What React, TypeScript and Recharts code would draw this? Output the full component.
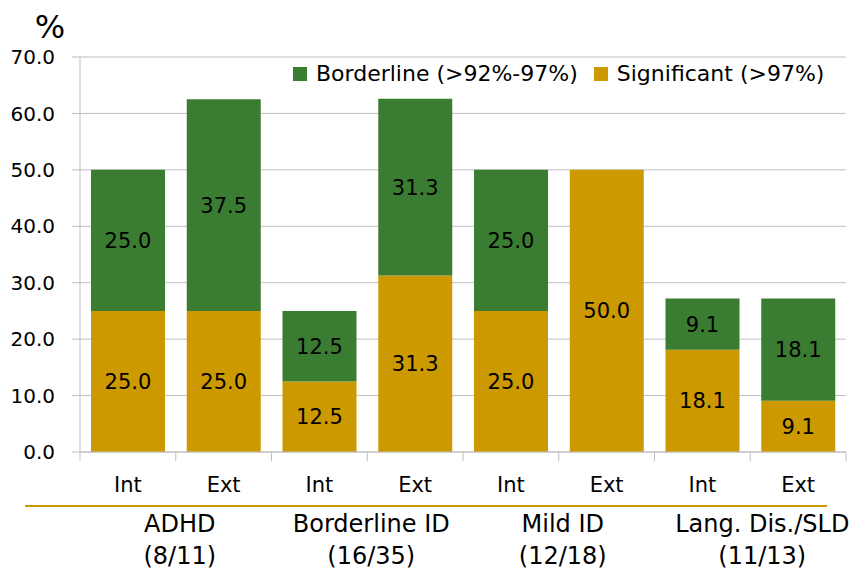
import { BarChart, Bar, XAxis, YAxis, CartesianGrid, Legend, LabelList } from "recharts";

const categories = ["Int", "Ext", "Int", "Ext", "Int", "Ext", "Int", "Ext"];
const groupNames = ["ADHD", "Borderline ID", "Mild ID", "Lang. Dis./SLD"];
const groupCounts = ["(8/11)", "(16/35)", "(12/18)", "(11/13)"];
const significant = [25.0, 25.0, 12.5, 31.3, 25.0, 50.0, 18.1, 9.1];
const borderline = [25.0, 37.5, 12.5, 31.3, 25.0, 0, 9.1, 18.1];
const yTicks = [0, 10, 20, 30, 40, 50, 60, 70];

const GREEN = "#3A7D32";
const GOLD = "#CC9900";
const GRID = "#BFBFBF";
const FONT = "'Comic Sans MS', 'DejaVu Sans', sans-serif";
const NUM_FONT = "'Century Gothic', 'DejaVu Sans', sans-serif";

const PLOT_LEFT = 80;
const PLOT_RIGHT = 846;
const BAND = (PLOT_RIGHT - PLOT_LEFT) / categories.length;

const data = categories.map((c, i) => ({
	name: `${c}-${i}`,
	cat: c,
	significant: significant[i],
	borderline: borderline[i],
}));

const fmt = (v: any) => (v ? Number(v).toFixed(1) : "");

const XTick = (props: any) => {
	const { x, y, payload, index } = props;
	const i = index ?? payload.index;
	const left = x - BAND / 2;
	const right = x + BAND / 2;
	const g = Math.floor(i / 2);
	const shift = g === 3 ? 12 : 4;
	return (
		<g>
			<line x1={left} y1={y} x2={left} y2={y + 9} stroke={GRID} />
			{i === categories.length - 1 && (
				<line x1={right} y1={y} x2={right} y2={y + 9} stroke={GRID} />
			)}
			<text x={x} y={y + 40} textAnchor="middle" fontFamily={FONT} fontSize={21} fill="#000">
				{categories[i]}
			</text>
			{i === 0 && <line x1={25} y1={y + 54} x2={827} y2={y + 54} stroke={GOLD} strokeWidth={2} />}
			{i % 2 === 0 && (
				<text textAnchor="middle" fontFamily={FONT} fontSize={24} fill="#000">
					<tspan x={right + shift} y={y + 80}>{groupNames[g]}</tspan>
					<tspan x={right + shift} y={y + 112}>{groupCounts[g]}</tspan>
				</text>
			)}
		</g>
	);
};

const LegendContent = () => (
	<div style={{ display: "flex", alignItems: "center", fontFamily: FONT, fontSize: 22, color: "#000", whiteSpace: "nowrap" }}>
		<span style={{ width: 14, height: 14, background: GREEN, display: "inline-block", marginRight: 9 }} />
		<span style={{ marginRight: 16 }}>Borderline (&gt;92%-97%)</span>
		<span style={{ width: 14, height: 14, background: GOLD, display: "inline-block", marginRight: 9 }} />
		<span>Significant (&gt;97%)</span>
	</div>
);

export default function App() {
	return (
		<div style={{ position: "absolute", left: 0, top: 0, background: "#fff" }}>
			<BarChart
				width={858}
				height={570}
				data={data}
				margin={{ top: 57, right: 858 - PLOT_RIGHT, left: 0, bottom: 0 }}
				barCategoryGap={11}
			>
				<CartesianGrid vertical={false} stroke={GRID} />
				<XAxis
					dataKey="name"
					height={118}
					axisLine={{ stroke: GRID }}
					tickLine={false}
					tickSize={0}
					tickMargin={0}
					interval={0}
					tick={<XTick />}
				/>
				<YAxis
					domain={[0, 70]}
					ticks={yTicks}
					width={PLOT_LEFT}
					tickFormatter={(v: number) => v.toFixed(1)}
					axisLine={{ stroke: GRID }}
					tickLine={{ stroke: GRID }}
					tickSize={8}
					tickMargin={17}
					tick={{ fill: "#000", fontSize: 20, fontFamily: NUM_FONT }}
					label={() => (
						<text x={50} y={38} textAnchor="middle" fontFamily={NUM_FONT} fontSize={32} fill="#000">
							%
						</text>
					)}
				/>
				<Legend
					verticalAlign="middle"
					layout="horizontal"
					content={<LegendContent />}
					wrapperStyle={{ top: 61, left: 293, width: "auto" }}
				/>
				<Bar dataKey="significant" stackId="a" fill={GOLD} isAnimationActive={false}>
					<LabelList dataKey="significant" position="center" formatter={fmt} fill="#000" fontSize={21} fontFamily={FONT} />
				</Bar>
				<Bar dataKey="borderline" stackId="a" fill={GREEN} isAnimationActive={false}>
					<LabelList dataKey="borderline" position="center" formatter={fmt} fill="#000" fontSize={21} fontFamily={FONT} />
				</Bar>
			</BarChart>
		</div>
	);
}
